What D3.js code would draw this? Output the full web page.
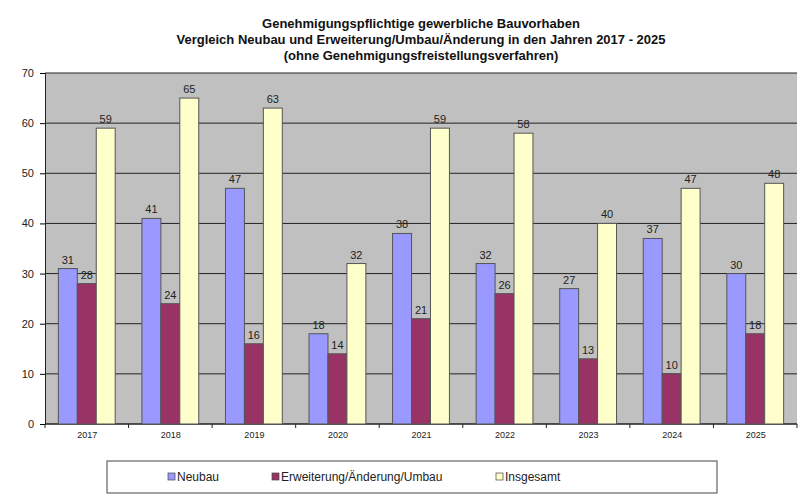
<!DOCTYPE html>
<html><head><meta charset="utf-8">
<script src="https://cdn.jsdelivr.net/npm/d3@7"></script>
<style>body{margin:0;background:#fff;font-family:"Liberation Sans",Arial,sans-serif}</style>
</head><body><svg id="c" width="800" height="504"></svg>
<script>
var years = ["2017","2018","2019","2020","2021","2022","2023","2024","2025"];
var neubau = [31,41,47,18,38,32,27,37,30];
var erweiterung = [28,24,16,14,21,26,13,10,18];
var insgesamt = [59,65,63,32,59,58,40,47,48];
var seriesNames = ["Neubau","Erweiterung/Änderung/Umbau","Insgesamt"];
var colors = ["#9999ff","#993366","#ffffcc"];
var yTicks = [0,10,20,30,40,50,60,70];

var svg = d3.select("#c");
var series = [neubau, erweiterung, insgesamt];

var x = d3.scaleBand().domain(years).range([45, 797]).paddingInner(0.32).paddingOuter(0.16);
var xs = d3.scaleBand().domain([0,1,2]).range([0, x.bandwidth()]);
var y = d3.scaleLinear().domain([0,70]).range([424, 73]);

svg.append("rect").attr("x",45).attr("y",73).attr("width",752).attr("height",351).attr("fill","#c0c0c0");

svg.append("g").selectAll("line").data(yTicks).enter().append("line")
  .attr("x1",45).attr("x2",797).attr("y1",y).attr("y2",y).attr("stroke","#222").attr("stroke-width",1);

svg.append("g").attr("transform","translate(45,0)")
  .call(d3.axisLeft(y).tickValues(yTicks).tickSize(5).tickPadding(6))
  .call(function(g){g.selectAll("text").attr("font-size",11).attr("fill","#222").attr("font-family","Liberation Sans, Arial");})
  .call(function(g){g.select(".domain").attr("stroke","#222");});

var xa = d3.axisBottom(d3.scaleOrdinal().domain(years).range(years.map(function(d){return x(d)+x.bandwidth()/2;})))
  .tickSize(0).tickPadding(8);
svg.append("g").attr("transform","translate(0,424)").call(xa)
  .call(function(g){g.selectAll("text").attr("font-size",9).attr("fill","#222").attr("font-family","Liberation Sans, Arial");})
  .call(function(g){g.select(".domain").remove();});
svg.append("line").attr("x1",45).attr("x2",797).attr("y1",424).attr("y2",424).attr("stroke","#222");
svg.append("g").selectAll("line").data(d3.range(10)).enter().append("line")
  .attr("x1",function(i){return 45+i*752/9;}).attr("x2",function(i){return 45+i*752/9;})
  .attr("y1",424).attr("y2",428).attr("stroke","#222");

series.forEach(function(vals, si){
  var g = svg.append("g");
  g.selectAll("rect").data(vals).enter().append("rect")
    .attr("x",function(d,i){return x(years[i])+xs(si);})
    .attr("y",function(d){return y(d);})
    .attr("width",xs.bandwidth()).attr("height",function(d){return 424-y(d);})
    .attr("fill",colors[si]).attr("stroke","#555").attr("stroke-width",1);
  g.selectAll("text").data(vals).enter().append("text")
    .attr("x",function(d,i){return x(years[i])+xs(si)+xs.bandwidth()/2;})
    .attr("y",function(d){return y(d)-5;})
    .attr("text-anchor","middle").attr("font-size",11).attr("fill","#222").text(function(d){return d;});
});

var title = ["Genehmigungspflichtige gewerbliche Bauvorhaben",
  "Vergleich Neubau und Erweiterung/Umbau/Änderung in den Jahren 2017 - 2025",
  "(ohne Genehmigungsfreistellungsverfahren)"];
svg.append("g").selectAll("text").data(title).enter().append("text")
  .attr("x",421).attr("y",function(d,i){return 28+i*16;}).attr("text-anchor","middle")
  .attr("font-size",13).attr("font-weight","bold").attr("fill","#111").text(function(d){return d;});

svg.append("rect").attr("x",107).attr("y",461).attr("width",610).attr("height",32)
  .attr("fill","#fff").attr("stroke","#444");
var lx = [168,272,496];
seriesNames.forEach(function(n,i){
  svg.append("rect").attr("x",lx[i]).attr("y",473).attr("width",7).attr("height",7)
    .attr("fill",colors[i]).attr("stroke","#444").attr("stroke-width",0.7);
  svg.append("text").attr("x",lx[i]+9).attr("y",481).attr("font-size",12).attr("fill","#222").text(n);
});
</script></body></html>
